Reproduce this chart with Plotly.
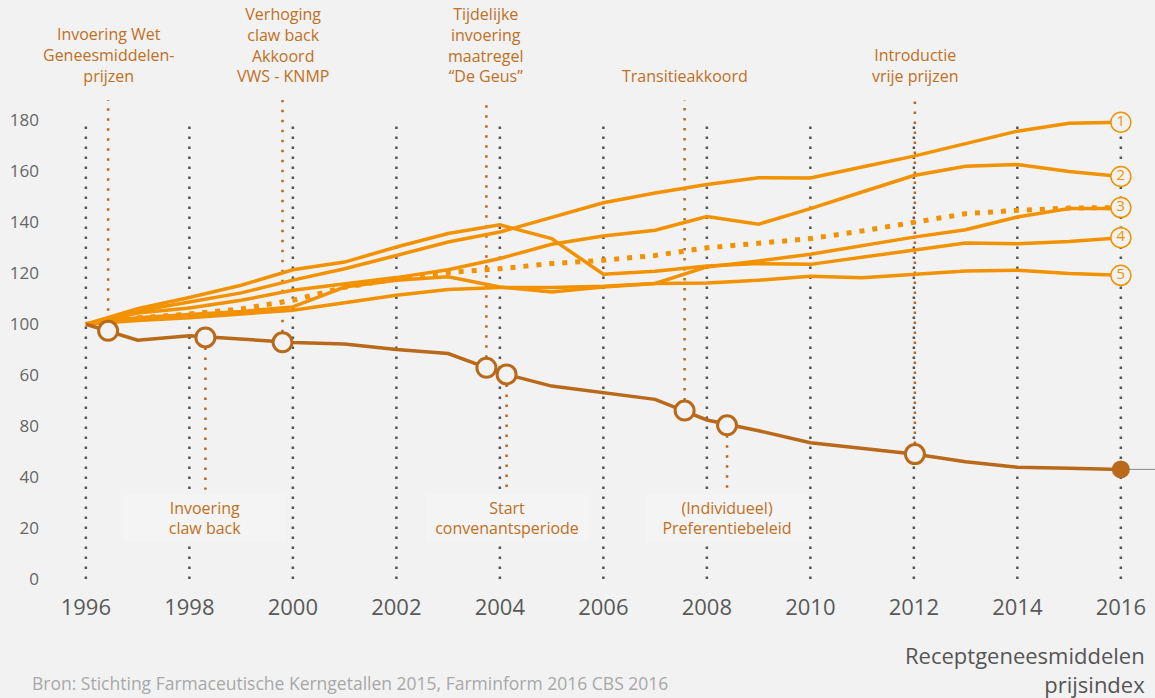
import plotly.graph_objects as go

# data ###############################################################################
years = list(range(1996, 2017))

serie_1 = [100, 105.2, 108.7, 112.3, 117.3, 121.8, 127.0, 132.3, 136.2, 142.1, 147.7,
           151.5, 154.9, 157.5, 157.4, 161.7, 166.0, 170.9, 175.8, 178.9, 179.3]
serie_2 = [100, 104.4, 106.4, 109.4, 113.3, 115.7, 118.3, 121.4, 125.8, 131.4, 134.6,
           136.9, 142.3, 139.3, 145.4, 151.9, 158.4, 162.0, 162.7, 160.0, 158.0]
serie_3 = [100, 102.5, 103.8, 105.0, 106.8, 114.6, 117.3, 118.6, 114.6, 112.7, 114.6,
           116.0, 122.5, 124.8, 127.5, 131.0, 134.2, 137.1, 142.1, 145.4, 145.4]
serie_4 = [100, 106.1, 110.5, 115.3, 121.4, 124.4, 130.3, 135.6, 139.0, 133.6, 119.6,
           120.8, 122.9, 123.8, 123.5, 126.4, 129.0, 131.9, 131.6, 132.5, 134.0]
serie_5 = [100, 101.5, 102.5, 104.0, 105.5, 108.4, 111.4, 113.6, 114.4, 114.4, 114.9,
           116.0, 116.2, 117.3, 118.8, 118.2, 119.6, 120.9, 121.2, 119.9, 119.2]
serie_gem = [100, 102.5, 104.0, 106.0, 109.4, 114.5, 117.8, 120.3, 121.8, 123.8, 125.1,
             127.0, 130.0, 131.6, 133.6, 136.6, 139.9, 143.4, 144.7, 145.6, 145.8]

# receptgeneesmiddelen prijsindex
prijsindex = [100, 93.7, 95.5, 94.0, 92.8, 92.2, 90.1, 88.5, 81.0, 75.7, 73.1,
              70.5, 62.4, 58.2, 53.5, 51.3, 49.0, 46.0, 43.8, 43.4, 43.0]

# beleidsmomenten
event_x = [1996.43, 1998.31, 1999.8, 2003.74, 2004.13, 2007.57, 2008.39, 2012.02]
event_y = [97.4, 94.8, 92.9, 82.9, 80.3, 66.1, 60.3, 49.0]
event_boven = [True, False, True, True, False, True, False, True]
event_tekst = ["Invoering Wet<br>Geneesmiddelen-<br>prijzen",
               "Invoering<br>claw back",
               "Verhoging<br>claw back<br>Akkoord<br>VWS - KNMP",
               "Tijdelijke<br>invoering<br>maatregel<br>\u201cDe Geus\u201d",
               "Start<br>convenantsperiode",
               "Transitieakkoord",
               "(Individueel)<br>Preferentiebeleid",
               "Introductie<br>vrije prijzen"]

nummers = ["1", "2", "3", "4", "5"]

y_tickvals = [0, 20, 40, 60, 80, 100, 120, 140, 160, 180]
y_ticktext = ["0", "20", "40", "80", "60", "100", "120", "140", "160", "180"]
x_tickvals = list(range(1996, 2017, 2))

# styling ############################################################################
bg = "#f2f2f2"
oranje = "#f39200"
bruin = "#b9691a"
tekst_bruin = "#c0701f"
grijs = "#555555"
font = "Open Sans"

fig = go.Figure()

# grey dotted year lines
gx, gy = [], []
for x in x_tickvals:
    gx += [x, x, None]
    gy += [0, 180, None]
fig.add_trace(go.Scatter(x=gx, y=gy, mode="lines", hoverinfo="skip",
                         line=dict(color=grijs, width=2.5, dash="2.5px,7.5px")))

# event dotted lines
ex, ey = [], []
for x, y, boven in zip(event_x, event_y, event_boven):
    ex += [x, x, None]
    ey += [y, 188 if boven else 35, None]
fig.add_trace(go.Scatter(x=ex, y=ey, mode="lines", hoverinfo="skip",
                         line=dict(color=bruin, width=2.5, dash="2.5px,7.5px")))

# orange series
for s in [serie_5, serie_4, serie_3, serie_2, serie_1]:
    fig.add_trace(go.Scatter(x=years, y=s, mode="lines", line=dict(color=oranje, width=3.5)))
fig.add_trace(go.Scatter(x=years, y=serie_gem, mode="lines",
                         line=dict(color=oranje, width=5, dash="5px,8px")))

# brown price index
fig.add_trace(go.Scatter(x=years, y=prijsindex, mode="lines", line=dict(color=bruin, width=3.5)))
fig.add_trace(go.Scatter(x=event_x, y=event_y, mode="markers",
                         marker=dict(size=19, color=bg, line=dict(color=bruin, width=3))))
fig.add_trace(go.Scatter(x=[years[-1]], y=[prijsindex[-1]], mode="markers",
                         marker=dict(size=18, color=bruin)))

# numbered circles at line ends
eind = [serie_1[-1], serie_2[-1], serie_gem[-1], serie_4[-1], serie_5[-1]]
fig.add_trace(go.Scatter(x=[years[-1]] * 5, y=eind, mode="markers+text",
                         text=nummers, textposition="middle center",
                         textfont=dict(family=font, size=15, color=oranje),
                         marker=dict(size=20, color=bg, line=dict(color=oranje, width=1.5))))

# grey leader line to the right
fig.add_shape(type="line", x0=years[-1], x1=2016.66, y0=prijsindex[-1], y1=prijsindex[-1],
              line=dict(color="#888888", width=1), layer="below")

# event labels
for x, boven, t in zip(event_x, event_boven, event_tekst):
    if boven:
        fig.add_annotation(x=x, y=1, xref="x", yref="paper", yanchor="bottom", yshift=6,
                           text=t, showarrow=False,
                           font=dict(family=font, size=16, color=tekst_bruin))
    else:
        fig.add_annotation(x=x, y=24, xref="x", yref="y", yanchor="middle",
                           text=t, showarrow=False, width=160, height=44, bgcolor="#f4f4f4",
                           font=dict(family=font, size=16, color=tekst_bruin))

fig.add_annotation(x=1, y=-0.174, xref="paper", yref="paper", xanchor="right", yanchor="middle",
                   xshift=-8, align="right", showarrow=False,
                   text="Receptgeneesmiddelen<br>prijsindex",
                   font=dict(family=font, size=22, color="#555555"))
fig.add_annotation(x=-0.0274, y=-0.202, xref="paper", yref="paper", xanchor="left", yanchor="middle",
                   showarrow=False,
                   text="Bron: Stichting Farmaceutische Kerngetallen 2015, Farminform 2016 CBS 2016",
                   font=dict(family=font, size=17.5, color="#a8a8a8"))

fig.update_layout(
    width=1155, height=698, showlegend=False,
    paper_bgcolor=bg, plot_bgcolor=bg,
    margin=dict(l=60, r=0, t=95, b=114),
    xaxis=dict(range=[1995.5, 2016.66], tickvals=x_tickvals, showgrid=False, zeroline=False,
               showline=False, ticks="", ticklabelstandoff=8,
               tickfont=dict(family=font, size=22, color="#595959")),
    yaxis=dict(range=[-2, 190], tickvals=y_tickvals, ticktext=y_ticktext, showgrid=False,
               zeroline=False, showline=False, ticks="", ticklabelstandoff=20,
               tickfont=dict(family=font, size=17, color="#666666")),
)

# page without body margin so the 1155x698 figure fills the window
fig.write_html("out.html", config={"displayModeBar": False},
               post_script="document.body.style.margin='0';document.body.style.overflow='hidden';")
